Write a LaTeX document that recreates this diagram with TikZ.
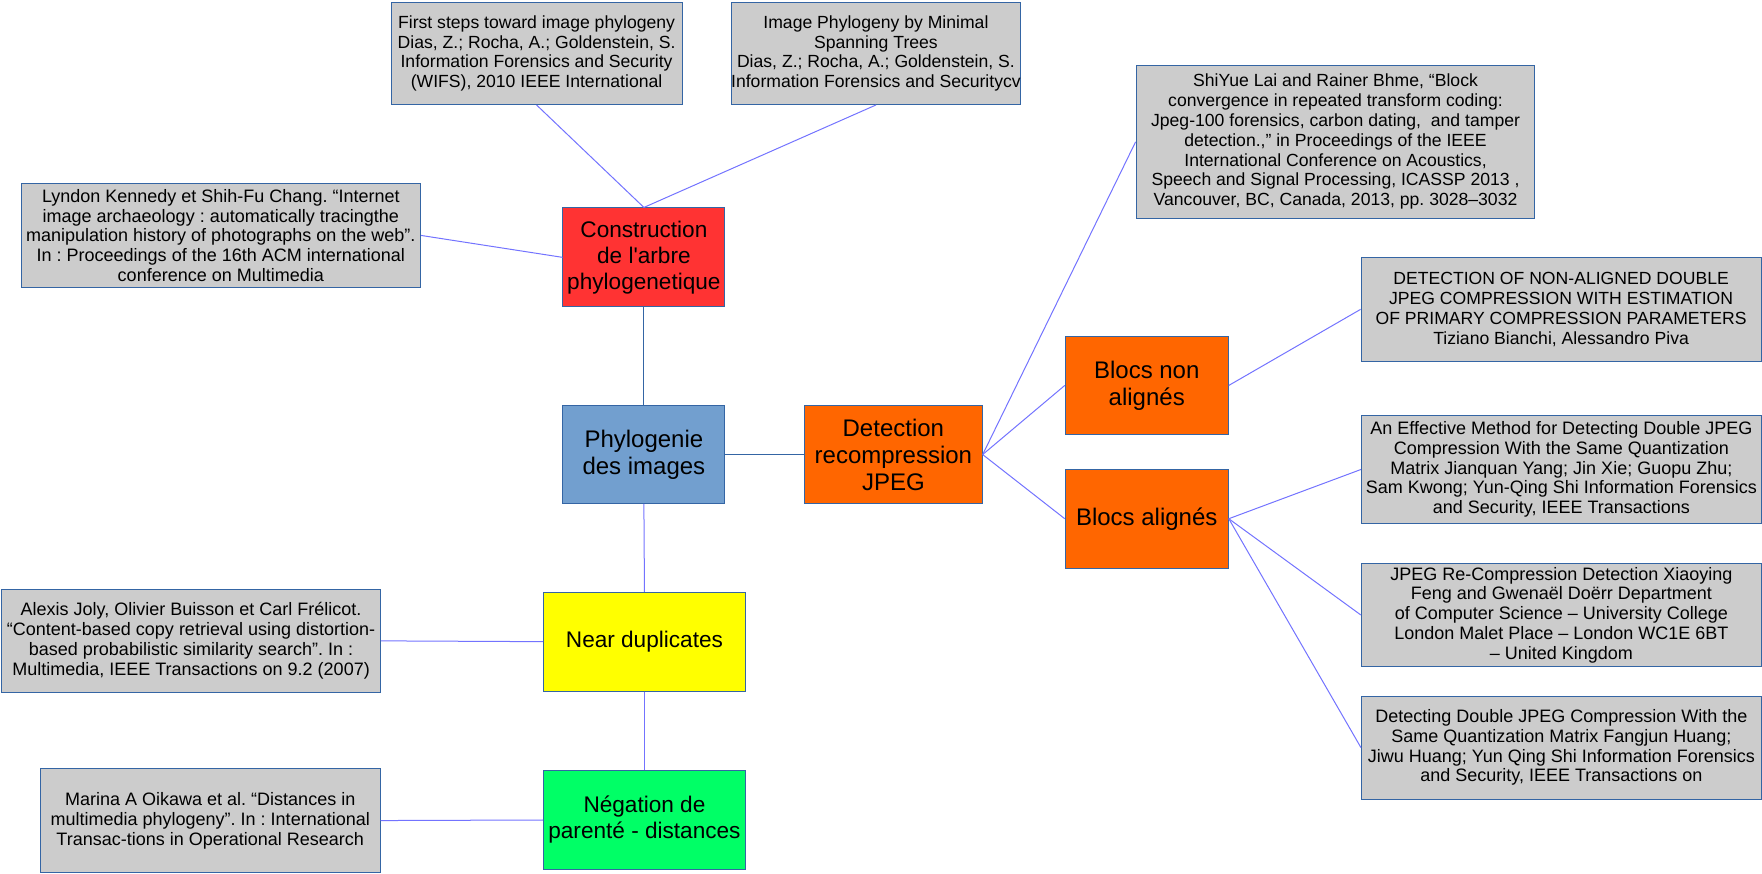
\documentclass[tikz,border=0pt]{standalone}
\usepackage{fontspec}
\setmainfont{Liberation Sans}
\usepackage{tikz}
\frenchspacing
\definecolor{boxborder}{HTML}{3465A4}
\definecolor{citegray}{HTML}{CCCCCC}
\definecolor{linkblue}{HTML}{7373FF}
\definecolor{arbrered}{HTML}{FF3333}
\definecolor{phyloblue}{HTML}{729FCF}
\definecolor{jpegorange}{HTML}{FF6600}
\definecolor{nearyellow}{HTML}{FFFF00}
\definecolor{distgreen}{HTML}{00FF66}

\begin{document}
\begin{tikzpicture}[x=0.5618pt,y=-0.5618pt]
\tikzset{box/.style={draw=boxborder,line width=0.5pt,align=center,inner sep=0pt}}
\tikzset{cite/.style={box,fill=citegray,font=\fontsize{9}{9.9}\selectfont}}
\tikzset{narrowcite/.style={cite,font=\fontsize{8.8}{9.9}\selectfont}}
\tikzset{theme/.style={box,font=\fontsize{12}{13.5}\selectfont}}
\tikzset{subtheme/.style={box,font=\fontsize{11.3}{13}\selectfont}}
\tikzset{link/.style={draw=linkblue,line width=0.5pt}}
\tikzset{trunk/.style={draw=boxborder,line width=0.5pt}}
\useasboundingbox (0,0) rectangle (1568,777);
	\node[theme,fill=phyloblue,minimum width=80.9pt,minimum height=48.9pt] (phylo) at (573,404.5) {Phylogenie\\des images};
	\node[subtheme,fill=arbrered,minimum width=80.9pt,minimum height=49.4pt] (arbre) at (573,229) {Construction\\de l\textquotesingle arbre\\phylogenetique};
	\node[subtheme,fill=nearyellow,minimum width=100.8pt,minimum height=49.4pt] (near) at (573.5,571) {Near duplicates};
	\node[subtheme,fill=distgreen,minimum width=100.8pt,minimum height=49.2pt] (negation) at (573.5,729.7) {Négation de\\parenté - distances};
	\node[theme,fill=jpegorange,minimum width=88.8pt,minimum height=48.9pt] (detect) at (795,404.5) {Detection\\recompression\\JPEG};
	\node[theme,fill=jpegorange,minimum width=81.5pt,minimum height=49.4pt] (nonal) at (1020.5,343) {Blocs non\\alignés};
	\node[theme,fill=jpegorange,minimum width=81.5pt,minimum height=49.3pt] (al) at (1020.5,461.6) {Blocs alignés};
	\node[narrowcite,minimum width=145.5pt,minimum height=51.1pt] (wifs) at (477.5,47.5) {First steps toward image phylogeny\\Dias, Z.; Rocha, A.; Goldenstein, S.\\Information Forensics and Security\\(WIFS), 2010 IEEE International};
	\node[narrowcite,minimum width=144.4pt,minimum height=51.1pt] (mst) at (779.5,47.5) {Image Phylogeny by Minimal\\Spanning Trees\\Dias, Z.; Rocha, A.; Goldenstein, S.\\Information Forensics and Securitycv};
	\node[cite,minimum width=199.7pt,minimum height=52.2pt] (lyndon) at (196.5,209.5) {Lyndon Kennedy et Shih-Fu Chang. “Internet\\image archaeology : automatically tracingthe\\manipulation history of photographs on the web”.\\In : Proceedings of the 16th ACM international\\conference on Multimedia};
	\node[cite,minimum width=189.2pt,minimum height=51.5pt] (alexis) at (170,570.3) {Alexis Joly, Olivier Buisson et Carl Frélicot.\\“Content-based copy retrieval using distortion-\\based probabilistic similarity search”. In :\\Multimedia, IEEE Transactions on 9.2 (2007)};
	\node[cite,minimum width=169.9pt,minimum height=51.9pt] (marina) at (187.1,730.2) {Marina A Oikawa et al. “Distances in\\multimedia phylogeny”. In : International\\Transac-tions in Operational Research};
	\node[narrowcite,minimum width=199.4pt,minimum height=76.4pt] (shiyue) at (1188.5,126.2) {ShiYue Lai and Rainer Bhme, “Block\\convergence in repeated transform coding:\\Jpeg-100 forensics, carbon dating,\ \ and tamper\\detection.,” in Proceedings of the IEEE\\International Conference on Acoustics,\\Speech and Signal Processing, ICASSP 2013 ,\\Vancouver, BC, Canada, 2013, pp. 3028–3032};
	\node[narrowcite,minimum width=200pt,minimum height=52pt] (nalcite) at (1389.2,275.3) {DETECTION OF NON-ALIGNED DOUBLE\\JPEG COMPRESSION WITH ESTIMATION\\OF PRIMARY COMPRESSION PARAMETERS\\Tiziano Bianchi, Alessandro Piva};
	\node[cite,minimum width=200pt,minimum height=53.8pt] (effective) at (1389.5,417.8) {An Effective Method for Detecting Double JPEG\\Compression With the Same Quantization\\Matrix Jianquan Yang; Jin Xie; Guopu Zhu;\\Sam Kwong; Yun-Qing Shi Information Forensics\\and Security, IEEE Transactions};
	\node[cite,minimum width=200pt,minimum height=51.3pt] (jpegre) at (1389.5,547.3) {JPEG Re-Compression Detection Xiaoying\\Feng and Gwenaël Doërr Department\\of Computer Science – University College\\London Malet Place – London WC1E 6BT\\– United Kingdom};
	\node[cite,minimum width=200pt,minimum height=51.5pt] (detecting) at (1389.5,665.2) {Detecting Double JPEG Compression With the\\Same Quantization Matrix Fangjun Huang;\\Jiwu Huang; Yun Qing Shi Information Forensics\\and Security, IEEE Transactions on};
	\draw[trunk] (arbre.south) -- (phylo.north);
	\draw[trunk] (phylo.east) -- (detect.west);
	\draw[link] (phylo.south) -- (near.north);
	\draw[link] (near.south) -- (negation.north);
	\draw[link] (wifs.south) -- (arbre.north);
	\draw[link] (mst.south) -- (arbre.north);
	\draw[link] (lyndon.east) -- (arbre.west);
	\draw[link] (alexis.east) -- (near.west);
	\draw[link] (marina.east) -- (negation.west);
	\draw[link] (detect.east) -- (shiyue.west);
	\draw[link] (detect.east) -- (nonal.west);
	\draw[link] (detect.east) -- (al.west);
	\draw[link] (nonal.east) -- (nalcite.west);
	\draw[link] (al.east) -- (effective.west);
	\draw[link] (al.east) -- (jpegre.west);
	\draw[link] (al.east) -- (detecting.west);
\end{tikzpicture}
\end{document}
